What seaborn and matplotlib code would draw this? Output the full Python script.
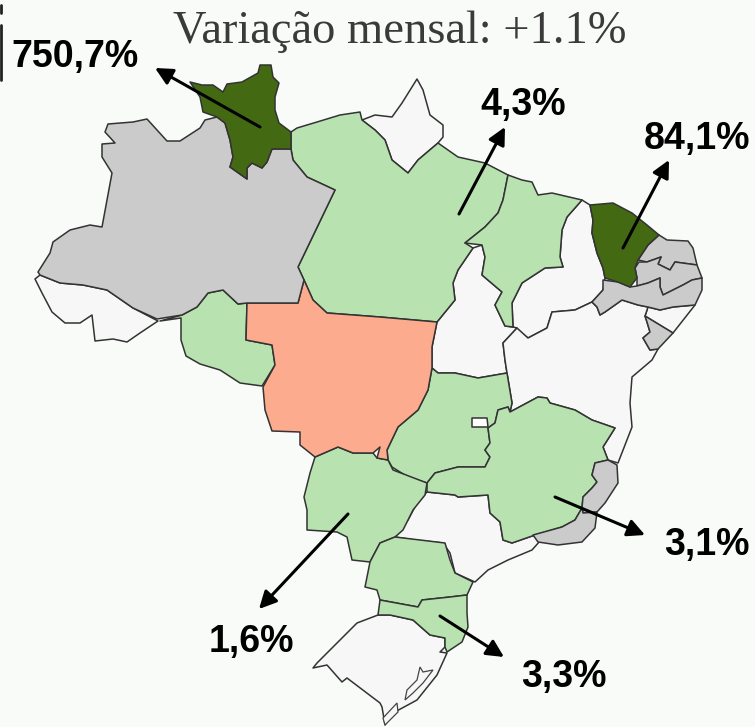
import matplotlib
matplotlib.use('Agg')
import matplotlib.pyplot as plt
import seaborn as sns

# =========================
# Map outlines (image x, y)
# =========================
RR = [(190,82),(202,85),(213,85),(223,92),(227,84),(242,82),(258,73),(260,65),(271,65),(273,77),(279,83),(275,97),
      (275,110),(279,123),(291,132),(291,149),(272,149),(267,162),(262,168),(252,163),(247,168),(247,179),
      (230,167),(233,157),(230,140),(225,123),(217,117),(203,112),(200,97)]
AM = [(38,272),(50,253),(53,242),(70,230),(90,225),(102,227),(112,173),(102,157),(102,144),(115,143),(105,132),
      (108,124),(133,122),(147,119),(167,141),(180,141),(200,128),(205,120),(217,117),(225,123),(230,140),
      (233,157),(230,167),(247,179),(247,168),(252,163),(262,168),(267,162),(272,149),(291,149),(293,160),(307,177),
      (335,190),(298,267),(304,280),(298,303),(247,303),(238,304),(223,290),(208,293),(197,307),(182,315),
      (157,319),(133,308),(107,290),(83,285),(60,283),(40,275)]
AC = [(35,279),(40,275),(60,283),(83,285),(107,290),(133,308),(158,321),(140,333),(127,342),(113,339),(95,341),
      (92,315),(80,323),(65,323),(52,312),(42,293)]
RO = [(160,321),(182,315),(197,307),(208,293),(223,290),(238,304),(247,303),(246,340),(272,345),(275,365),
      (262,386),(240,383),(220,370),(200,364),(186,356),(181,340),(181,318)]
MT = [(304,280),(313,300),(327,313),(380,317),(437,322),(432,347),(432,368),(428,390),(418,410),(398,427),
      (387,450),(388,460),(377,458),(380,447),(373,453),(353,453),(338,447),(315,457),(300,445),(300,432),
      (272,431),(265,410),(263,387),(275,365),(272,345),(246,340),(247,303),(298,303)]
PA = [(291,132),(297,128),(317,122),(340,115),(360,112),(362,120),(375,130),(385,140),(392,160),(408,173),
      (418,160),(438,143),(458,157),(485,163),(508,175),(503,200),(498,213),(485,227),(465,243),(473,248),(458,270),
      (453,283),(455,300),(437,322),(380,317),(327,313),(313,300),(304,280),(298,267),(335,190),(307,177),(293,160),(291,149)]
AP = [(362,120),(375,115),(392,117),(402,103),(417,79),(423,90),(430,115),(443,125),(443,137),(438,143),(418,160),
      (408,173),(392,160),(385,140),(375,130)]
MA = [(508,175),(522,180),(532,182),(538,195),(552,193),(582,200),(567,217),(562,230),(560,257),(563,267),(545,268),
      (522,283),(512,303),(513,327),(505,326),(495,305),(502,292),(482,275),(485,257),(482,245),(465,243),(485,227),
      (498,213),(503,200)]
PI = [(582,200),(590,205),(593,220),(592,233),(597,253),(603,268),(605,278),(603,290),(592,302),(575,310),(552,312),
      (547,328),(528,338),(515,328),(513,327),(512,303),(522,283),(545,268),(563,267),(560,257),(562,230),(567,217)]
TO = [(473,248),(482,245),(485,257),(482,275),(502,292),(495,305),(505,326),(513,327),(517,328),(503,343),(505,360),
      (507,373),(478,378),(455,373),(438,373),(432,368),(432,347),(437,322),(455,300),(453,283),(458,270)]
CE = [(590,205),(613,203),(632,213),(647,225),(659,235),(648,245),(638,260),(635,268),(637,278),(630,287),(618,282),
      (605,278),(603,268),(597,253),(592,233),(593,220)]
RN = [(659,235),(667,240),(688,241),(693,248),(697,265),(675,262),(670,270),(658,264),(661,257),(647,262),(638,260),(648,245)]
PB = [(635,268),(639,262),(647,262),(661,257),(658,264),(670,270),(675,262),(697,265),(702,278),(692,280),(683,285),
      (663,295),(660,287),(660,278),(648,283),(637,286),(637,278)]
PE = [(603,280),(618,282),(630,287),(637,286),(648,283),(660,278),(660,287),(663,295),(683,285),(692,280),(702,278),
      (702,290),(695,305),(673,307),(660,310),(648,307),(638,305),(622,300),(605,312),(600,315),(597,307),(592,302),(603,290)]
AL = [(648,307),(660,310),(673,307),(695,305),(673,333),(645,316)]
SE = [(645,316),(673,333),(658,349),(650,350),(643,338),(650,332),(647,322)]
BA = [(592,302),(597,307),(600,315),(605,312),(622,300),(638,305),(648,307),(645,316),(647,322),(650,332),(643,338),
      (650,350),(658,349),(652,360),(632,377),(630,403),(632,427),(618,463),(608,460),(603,447),(615,428),(592,420),
      (575,410),(550,403),(547,398),(538,397),(510,412),(512,403),(507,373),(505,360),(503,343),(517,328),(528,338),
      (547,328),(552,312),(575,310)]
MG = [(510,412),(538,397),(547,398),(550,403),(575,410),(592,420),(615,428),(603,447),(608,460),(595,463),(592,475),
      (597,482),(592,488),(583,497),(582,508),(575,520),(562,527),(535,535),(512,543),(503,540),(500,522),(490,513),
      (488,495),(458,497),(455,495),(427,492),(427,483),(435,473),(458,467),(485,467),(490,457),(485,450),(490,443),
      (488,428),(495,423),(498,410),(508,407)]
GO = [(432,368),(438,373),(455,373),(478,378),(507,373),(512,403),(510,412),(508,407),(498,410),(495,423),(488,428),
      (490,443),(485,450),(490,457),(485,467),(458,467),(435,473),(427,483),(408,477),(392,467),(388,460),(387,450),
      (398,427),(418,410),(428,390)]
DF = [(472,418),(487,418),(488,427),(472,427)]
ES = [(595,463),(608,460),(617,465),(618,483),(605,503),(597,512),(583,513),(582,508),(583,497),(592,488),(597,482),(592,475)]
RJ = [(582,508),(583,513),(597,512),(595,528),(582,542),(558,545),(538,542),(533,535),(562,527),(575,520)]
SP = [(427,492),(455,495),(458,497),(488,495),(490,513),(500,522),(503,540),(512,543),(535,535),(540,541),(532,550),
      (508,560),(488,570),(475,582),(455,573),(450,553),(443,543),(415,540),(395,537),(408,520),(417,503)]
MS = [(315,457),(338,447),(353,453),(373,453),(377,458),(388,460),(393,470),(427,483),(425,495),(413,510),(403,530),
      (395,537),(380,543),(370,562),(352,560),(347,537),(337,532),(307,530),(307,510),(304,497),(310,473)]
PR = [(395,537),(420,540),(445,543),(450,560),(455,573),(473,582),(467,595),(450,597),(422,600),(418,607),(380,600),
      (377,590),(365,587),(370,562),(380,543)]
SC = [(380,600),(418,607),(422,600),(450,597),(467,595),(467,613),(468,627),(462,642),(447,652),(445,647),(445,638),(430,635),
      (413,620),(390,615),(378,615)]
RS = [(378,615),(390,615),(413,620),(430,635),(445,638),(445,647),(440,652),(447,653),(437,675),(417,700),(393,713),
      (385,725),(382,707),(380,703),(347,678),(342,682),(327,665),(313,668),(317,663),(337,643),(357,623)]
lagoon = [(420,667),(423,672),(433,670),(423,683),(413,693),(405,700),(407,690),(417,680)]
small_lagoon = [(397,703),(398,712),(385,725),(383,718)]

# State shapes grouped by the colour class they have on the map
dark_states = [RR, CE]
green_states = [PA, MA, RO, GO, MG, MS, PR, SC]
orange_states = [MT]
gray_states = [AM, RN, PB, PE, SE, ES, RJ]
blank_states = [AC, AP, PI, TO, AL, BA, SP, RS]
white_states = [DF]

# =========================
# Labels and arrows
# =========================
title_text = 'Variação mensal: +1.1%'
pct_labels = ['750,7%', '4,3%', '84,1%', '3,1%', '1,6%', '3,3%']
label_xy = [(75,57), (523,105), (697,139), (707,545), (251,642), (564,677)]
arrow_from = [(260,127), (459,214), (623,248), (555,497), (348,514), (440,616)]
arrow_to = [(155,68), (505,127), (669,160), (645,535), (259,609), (504,657)]

sns.set_theme(style='white')
bg = '#f9fbf9'

fig, ax = plt.subplots(figsize=(7.55, 7.27), dpi=100)
fig.patch.set_facecolor(bg)
ax.set_position([0, 0, 1, 1])
ax.set_facecolor(bg)
ax.set_xlim(0, 755)
ax.set_ylim(727, 0)
ax.axis('off')

groups = [(blank_states, '#f7f7f8'), (green_states, '#b8e2b0'), (orange_states, '#fdab8e'),
          (gray_states, '#cbcbcb'), (dark_states, '#436a12'), (white_states, '#ffffff')]
for states, color in groups:
    for shape in states:
        xs, ys = zip(*shape)
        ax.fill(xs, ys, facecolor=color, edgecolor='#333333', linewidth=1.1, joinstyle='round')

for shape in [lagoon, small_lagoon]:
    xs, ys = zip(*shape)
    ax.fill(xs, ys, facecolor='#f7f7f8', edgecolor='#444444', linewidth=0.9)

# cut-off legend box on the left edge
ax.plot([1, 1], [25, 80], color='#222222', linewidth=2)
ax.plot([1, 1], [5, 13], color='#222222', linewidth=2)

ax.text(400, 43, title_text, family='Liberation Serif', fontsize=33.5, color='#3a3a3a',
        ha='center', va='baseline')

for text, xy, start, end in zip(pct_labels, label_xy, arrow_from, arrow_to):
    ax.annotate('', xy=end, xytext=start,
                arrowprops=dict(arrowstyle='-|>', color='black', lw=2.2, mutation_scale=26,
                                shrinkA=0, shrinkB=0))
    ax.text(xy[0], xy[1], text, family='Liberation Sans', fontweight='bold', fontsize=27,
            color='black', ha='center', va='center')

fig.savefig('out.png', dpi=100, facecolor=bg)
